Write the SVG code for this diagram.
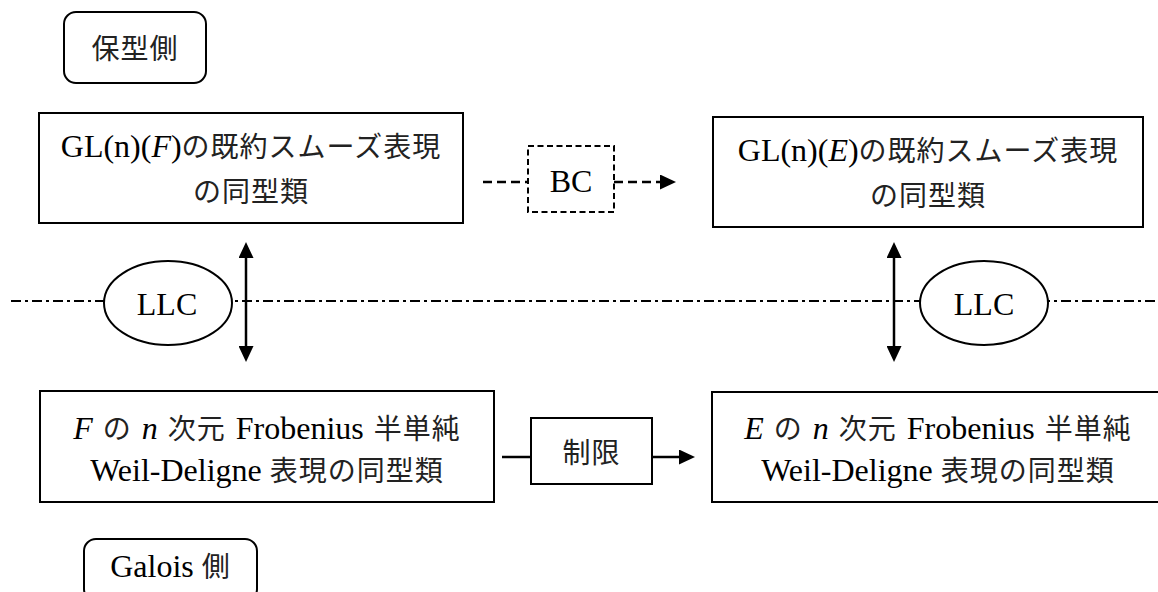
<svg xmlns="http://www.w3.org/2000/svg" width="1158" height="592" viewBox="0 0 1158 592">
<style>
  .box { fill: #fff; stroke: #000; stroke-width: 2; }
  .rbox { fill: #fff; stroke: #000; stroke-width: 2; }
  .dbox { fill: #fff; stroke: #000; stroke-width: 2; stroke-dasharray: 6 3.5; }
  .ell { fill: #fff; stroke: #000; stroke-width: 2; }
  .t { font-family: "Liberation Serif", "Noto Sans CJK JP", serif; font-size: 32px; fill: #000; text-anchor: middle; }
  .jp { font-family: "Noto Sans CJK JP", sans-serif; font-size: 28px; letter-spacing: 1px; fill: #222; }
  .it { font-style: italic; }
  .ws { word-spacing: 2px; }
  .conn { fill: none; stroke: #000; stroke-width: 2.5; }
  .dash { stroke-dasharray: 9 5; }
  .axis { fill: none; stroke: #000; stroke-width: 2; stroke-dasharray: 10 4 3 4; }
</style>
<defs>
  <marker id="ah" markerUnits="userSpaceOnUse" markerWidth="16" markerHeight="15" refX="0" refY="7.5" orient="auto-start-reverse" viewBox="0 0 16 15">
    <path d="M0,0 L16,7.5 L0,15 Z" fill="#000"/>
  </marker>
</defs>

<g id="axis">
  <line class="axis" x1="11" y1="301" x2="1158" y2="301"/>
</g>

<g id="side-automorphic">
  <rect class="rbox" x="64" y="12" width="142" height="71" rx="12" ry="12"/>
  <text class="t jp" x="135" y="59">保型側</text>
</g>

<g id="gl-F">
  <rect class="box" x="39" y="113" width="424" height="110"/>
  <text class="t" x="251" y="157">GL(n)(<tspan class="it">F</tspan>)<tspan class="jp">の既約スムーズ表現</tspan></text>
  <text class="t jp" x="251" y="202">の同型類</text>
</g>

<g id="bc">
  <rect class="dbox" x="528" y="146" width="86" height="66"/>
  <text class="t" x="571" y="192">BC</text>
</g>

<g id="gl-E">
  <rect class="box" x="713" y="117" width="430" height="110"/>
  <text class="t" x="928" y="161">GL(n)(<tspan class="it">E</tspan>)<tspan class="jp">の既約スムーズ表現</tspan></text>
  <text class="t jp" x="928" y="206">の同型類</text>
</g>

<g id="llc-left">
  <ellipse class="ell" cx="168" cy="303" rx="64" ry="42"/>
  <text class="t" x="167" y="315">LLC</text>
</g>

<g id="llc-right">
  <ellipse class="ell" cx="984" cy="303" rx="64" ry="42"/>
  <text class="t" x="984" y="315">LLC</text>
</g>

<g id="wd-F">
  <rect class="box" x="40" y="391" width="454" height="111"/>
  <text class="t ws" x="267" y="439"><tspan class="it">F</tspan> <tspan class="jp">の</tspan> <tspan class="it">n</tspan> <tspan class="jp">次元</tspan> Frobenius <tspan class="jp">半単純</tspan></text>
  <text class="t" x="267" y="481">Weil-Deligne <tspan class="jp">表現の同型類</tspan></text>
</g>

<g id="restrict">
  <rect class="box" x="531" y="418" width="121" height="66"/>
  <text class="t jp" x="591.5" y="463">制限</text>
</g>

<g id="wd-E">
  <rect class="box" x="712" y="392" width="452" height="110"/>
  <text class="t ws" x="938" y="439"><tspan class="it">E</tspan> <tspan class="jp">の</tspan> <tspan class="it">n</tspan> <tspan class="jp">次元</tspan> Frobenius <tspan class="jp">半単純</tspan></text>
  <text class="t" x="938" y="481">Weil-Deligne <tspan class="jp">表現の同型類</tspan></text>
</g>

<g id="side-galois">
  <rect class="rbox" x="84" y="539" width="173" height="62" rx="12" ry="12"/>
  <text class="t" x="170.5" y="577">Galois <tspan class="jp">側</tspan></text>
</g>

<g id="connectors">
  <line class="conn dash" x1="483" y1="182" x2="528" y2="182"/>
  <line class="conn dash" x1="614" y1="182" x2="660" y2="182" marker-end="url(#ah)"/>
  <line class="conn" x1="246" y1="258" x2="246" y2="346" marker-start="url(#ah)" marker-end="url(#ah)"/>
  <line class="conn" x1="894" y1="258" x2="894" y2="346" marker-start="url(#ah)" marker-end="url(#ah)"/>
  <line class="conn" x1="502" y1="457" x2="531" y2="457"/>
  <line class="conn" x1="652" y1="457" x2="679" y2="457" marker-end="url(#ah)"/>
</g>
</svg>
